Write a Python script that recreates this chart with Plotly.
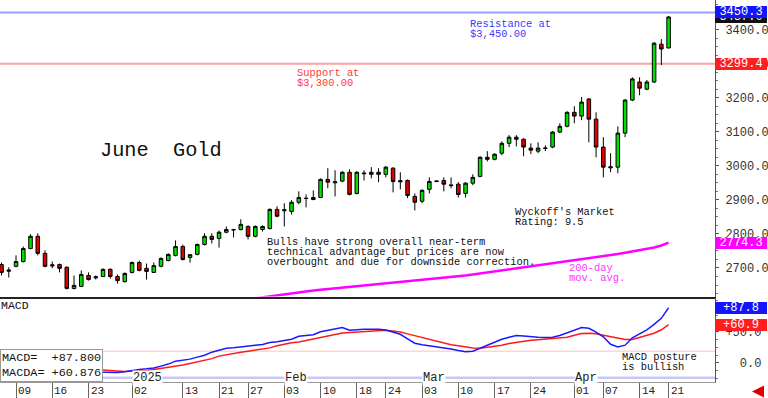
import plotly.graph_objects as go

# ---------------- data ----------------
dec_days = [5, 6, 9, 10, 11, 12, 13, 16, 17, 18, 19, 20, 23, 24, 26, 27, 30, 31]
jan_days = [2, 3, 6, 7, 8, 9, 10, 13, 14, 15, 16, 17, 21, 22, 23, 24, 27, 28, 29, 30, 31]
feb_days = [3, 4, 5, 6, 7, 10, 11, 12, 13, 14, 18, 19, 20, 21, 24, 25, 26, 27, 28]
mar_days = [3, 4, 5, 6, 7, 10, 11, 12, 13, 14, 17, 18, 19, 20, 21, 24, 25, 26, 27, 28, 31]
apr_days = [1, 2, 3, 4, 7, 8, 9, 10, 11, 14, 15, 16, 17, 21]

dates = ([f"2024-12-{d:02d}" for d in dec_days] + [f"2025-01-{d:02d}" for d in jan_days]
         + [f"2025-02-{d:02d}" for d in feb_days] + [f"2025-03-{d:02d}" for d in mar_days]
         + [f"2025-04-{d:02d}" for d in apr_days])

opens = [2710, 2694, 2705, 2719, 2757, 2793, 2743, 2706, 2710, 2702,
         2640, 2646, 2678, 2671, 2675, 2696, 2675, 2660, 2687, 2716,
         2699, 2687, 2705, 2722, 2737, 2763, 2731, 2740, 2769, 2793,
         2787, 2805, 2813, 2813, 2822, 2793, 2813, 2816, 2872, 2868,
         2866, 2893, 2905, 2901, 2907, 2960, 2950, 2955, 2981, 2919,
         2979, 2975, 2981, 2975, 2993, 2953, 2957, 2910, 2896, 2931,
         2954, 2957, 2944, 2946, 2919, 2949, 2969, 3025, 3019, 3037,
         3066, 3084, 3078, 3052, 3043, 3051, 3055, 3099, 3116, 3157,
         3146, 3196, 3137, 3055, 2994, 2996, 3096, 3193, 3246, 3225,
         3246, 3357, 3346]
highs = [2716, 2702, 2737, 2763, 2799, 2802, 2752, 2719, 2713, 2705,
         2678, 2693, 2687, 2678, 2699, 2699, 2681, 2687, 2719, 2722,
         2713, 2716, 2731, 2743, 2781, 2769, 2741, 2772, 2802, 2802,
         2810, 2822, 2815, 2843, 2825, 2825, 2825, 2875, 2881, 2890,
         2899, 2925, 2916, 2928, 2963, 2993, 2987, 2984, 2990, 2984,
         2987, 2996, 2993, 2999, 2996, 2981, 2960, 2919, 2931, 2966,
         2957, 2966, 2966, 2952, 2952, 2975, 3028, 3043, 3037, 3072,
         3090, 3090, 3081, 3066, 3069, 3060, 3102, 3125, 3160, 3175,
         3202, 3199, 3157, 3084, 3037, 3116, 3196, 3260, 3260, 3252,
         3363, 3372, 3440]
lows = [2678, 2672, 2702, 2716, 2755, 2737, 2702, 2699, 2687, 2637,
        2637, 2644, 2663, 2666, 2674, 2669, 2654, 2657, 2684, 2690,
        2666, 2686, 2702, 2719, 2734, 2722, 2716, 2737, 2766, 2772,
        2760, 2802, 2790, 2810, 2784, 2790, 2807, 2813, 2849, 2822,
        2857, 2887, 2878, 2899, 2905, 2934, 2910, 2952, 2913, 2916,
        2957, 2963, 2952, 2966, 2922, 2931, 2905, 2869, 2890, 2919,
        2952, 2925, 2934, 2907, 2907, 2943, 2966, 3013, 3016, 3031,
        3055, 3057, 3028, 3034, 3037, 3043, 3052, 3096, 3113, 3125,
        3134, 3069, 3025, 2966, 2981, 2978, 3084, 3190, 3207, 3222,
        3243, 3296, 3345]
closes = [2687, 2691, 2719, 2757, 2793, 2743, 2705, 2709, 2699, 2640,
          2649, 2681, 2666, 2674, 2696, 2675, 2663, 2684, 2716, 2693,
          2690, 2707, 2728, 2740, 2763, 2725, 2739, 2769, 2793, 2784,
          2805, 2813, 2812, 2828, 2793, 2822, 2822, 2872, 2852, 2871,
          2893, 2907, 2904, 2907, 2960, 2952, 2953, 2981, 2916, 2981,
          2977, 2981, 2975, 2996, 2954, 2956, 2913, 2893, 2928, 2954,
          2955, 2946, 2942, 2916, 2949, 2966, 3025, 3019, 3034, 3066,
          3084, 3078, 3055, 3046, 3052, 3052, 3099, 3116, 3157, 3146,
          3187, 3137, 3055, 2996, 2997, 3096, 3193, 3255, 3228, 3246,
          3360, 3343, 3437]

ma_start = "2025-01-27"
ma200 = [2608, 2611, 2614, 2618, 2621, 2624, 2627, 2630, 2632, 2634,
         2636, 2638, 2640, 2642, 2644, 2646, 2648, 2650, 2653, 2655,
         2658, 2660, 2662, 2664, 2666, 2667, 2669, 2671, 2673, 2675,
         2678, 2681, 2684, 2687, 2690, 2693, 2696, 2699, 2701, 2703,
         2706, 2709, 2712, 2715, 2718, 2721, 2725, 2728, 2731, 2734,
         2737, 2741, 2745, 2749, 2752, 2755, 2760, 2766, 2774.3]

macd = [-5.1, -5.1, -3.5, -1.9, -0.3, -0.3, -3.5, -5.1, -6.6, -9.8,
        -13.0, -13.0, -13.0, -14.6, -14.6, -14.6, -15.3, -14.0, -12.0, -10.5,
        -9.5, -8.2, -5.1, -1.9, 2.8, 4.4, 6.0, 9.2, 12.3, 17.1,
        20.3, 23.4, 24.2, 25.8, 26.6, 28.2, 29.3, 32.4, 33.7, 35.3,
        37.7, 42.4, 44.0, 44.8, 49.5, 51.9, 53.8, 56.2, 51.9, 53.0,
        53.5, 53.5, 53.5, 52.2, 49.5, 45.6, 38.4, 31.3, 29.0, 27.4,
        26.1, 24.5, 22.2, 19.9, 17.9, 18.7, 23.4, 29.0, 33.2, 37.7,
        40.8, 43.5, 42.7, 41.5, 40.8, 40.3, 40.8, 43.5, 48.1, 52.2,
        56.2, 55.1, 49.1, 41.6, 29.7, 25.5, 28.2, 40.0, 46.4, 52.7,
        61.4, 70.9, 87.8]
macda = [-1.9, -1.9, -1.9, -1.9, -1.1, -1.1, -1.9, -2.7, -3.5, -5.1,
         -6.6, -8.2, -9.8, -10.6, -11.4, -12.2, -13.3, -13.8, -13.0, -12.7,
         -11.9, -10.6, -9.0, -7.4, -5.7, -3.5, -1.1, 1.3, 3.6, 6.8,
         10.8, 13.1, 15.0, 17.1, 18.7, 20.6, 22.2, 23.9, 27.4, 30.2,
         32.1, 33.2, 35.6, 37.2, 40.3, 42.7, 45.1, 47.5, 48.4, 49.2,
         50.0, 50.6, 51.3, 51.9, 50.6, 49.1, 46.2, 43.2, 40.3, 37.3,
         34.5, 31.6, 29.0, 27.2, 25.2, 23.7, 23.4, 24.7, 25.9, 28.2,
         30.7, 32.6, 34.8, 36.1, 36.9, 37.8, 38.9, 39.9, 41.0, 44.0,
         46.7, 47.2, 46.4, 44.1, 41.5, 38.6, 37.2, 37.2, 40.5, 43.2,
         47.2, 52.7, 60.876]

resistance = 3450.3
support = 3299.4
macd_ref = 18.7

tick_dates = ["2024-12-09", "2024-12-16", "2024-12-23", "2025-01-02", "2025-01-13",
              "2025-01-21", "2025-01-27", "2025-02-03", "2025-02-10", "2025-02-18",
              "2025-02-24", "2025-03-03", "2025-03-10", "2025-03-17", "2025-03-24",
              "2025-04-01", "2025-04-07", "2025-04-14", "2025-04-21"]
month_labels = [("2025", "2025-01-02"), ("Feb", "2025-02-03"),
                ("Mar", "2025-03-03"), ("Apr", "2025-04-01")]

# ---------------- helpers ----------------
idx = list(range(len(dates)))
pos = {d: i for i, d in enumerate(dates)}
ma_x = list(range(pos[ma_start], pos[ma_start] + len(ma200)))

W, H = 768, 398
PW, PH = 715, 382          # plot-area size in px


def px(x):
    return x / PW


def py(y):
    return (PH - y) / PH


MONO = "Liberation Mono, DejaVu Sans Mono, monospace"
MAIN_DOM = [py(296.5), 1.0]
MACD_DOM = [0.0, py(297.5)]

fig = go.Figure()

fig.add_trace(go.Scatter(x=ma_x, y=ma200, mode="lines",
                         line=dict(color="#ff00ff", width=2.5),
                         xaxis="x", yaxis="y", hoverinfo="skip"))

fig.add_trace(go.Candlestick(
    x=idx, open=opens, high=highs, low=lows, close=closes,
    increasing=dict(fillcolor="#00e000", line=dict(color="#000000", width=1)),
    decreasing=dict(fillcolor="#e00000", line=dict(color="#000000", width=1)),
    whiskerwidth=0, xaxis="x", yaxis="y"))

fig.add_trace(go.Scatter(x=idx, y=macda, mode="lines",
                         line=dict(color="#ff1a1a", width=1.5),
                         xaxis="x2", yaxis="y2"))
fig.add_trace(go.Scatter(x=idx, y=macd, mode="lines",
                         line=dict(color="#1a1aff", width=1.5),
                         xaxis="x2", yaxis="y2"))

xr = [-0.21, 98.4]
main_ticks = [2700, 2800, 2900, 3000, 3100, 3200, 3300, 3400]

fig.update_layout(
    width=W, height=H, showlegend=False,
    margin=dict(l=0, r=W - PW, t=0, b=H - PH),
    paper_bgcolor="white", plot_bgcolor="white",
    font=dict(family=MONO, size=12, color="#222"),
    xaxis=dict(domain=[0, 1], range=xr, anchor="y", matches="x2",
               showgrid=False, zeroline=False, showticklabels=False, ticks="",
               showline=True, linecolor="#222", linewidth=2,
               rangeslider=dict(visible=False), fixedrange=True),
    yaxis=dict(domain=MAIN_DOM, range=[2616.3, 3486.8], side="right", anchor="x",
               showgrid=False, zeroline=False, showline=True, linecolor="#555",
               ticks="outside", ticklen=3, tickcolor="#555",
               tickvals=main_ticks, ticktext=[f"{v:.1f}" for v in main_ticks],
               tickfont=dict(family=MONO, size=12, color="#333"),
               ticklabelstandoff=4,
               minor=dict(dtick=25, ticks="outside", ticklen=2, tickcolor="#777")),
    xaxis2=dict(domain=[0, 1], range=xr, anchor="y2",
                showgrid=False, zeroline=False, showticklabels=False,
                ticks="outside", ticklen=16, tickcolor="#666", tickwidth=1,
                tickvals=[pos[d] for d in tick_dates],
                showline=True, linecolor="#999", linewidth=1),
    yaxis2=dict(domain=MACD_DOM, range=[-30.4, 104.1], side="right", anchor="x2",
                showgrid=False, zeroline=False, showline=True, linecolor="#555",
                ticks="outside", ticklen=3, tickcolor="#555",
                tickvals=[0, 50], ticktext=["\u00a0\u00a00.0", "+50.0"],
                tickfont=dict(family=MONO, size=12, color="#333"),
                ticklabelstandoff=4,
                minor=dict(dtick=12.5, ticks="outside", ticklen=2, tickcolor="#777")),
)

shapes = [
    dict(type="line", xref="paper", yref="y", x0=0, x1=1, y0=resistance, y1=resistance,
         line=dict(color="#9c9cff", width=2), layer="below"),
    dict(type="line", xref="paper", yref="y", x0=0, x1=1, y0=support, y1=support,
         line=dict(color="#ffa0a0", width=2), layer="below"),
    dict(type="line", xref="paper", yref="y2", x0=0, x1=1, y0=macd_ref, y1=macd_ref,
         line=dict(color="#ffc0c0", width=1), layer="below"),
    dict(type="line", xref="paper", yref="paper", x0=0, x1=1, y0=py(377.7), y1=py(377.7),
         line=dict(color="#c8c8f4", width=2.5), layer="below"),
]
fig.update_layout(shapes=shapes)

anns = []


def text(t, x, y, color="#111", size=10.4, xanchor="left", bg=None, **kw):
    d = dict(text=t, xref="paper", yref="paper", x=px(x), y=py(y),
             xanchor=xanchor, yanchor="middle", showarrow=False,
             font=dict(family=MONO, size=size, color=color), borderpad=0)
    if bg:
        d["bgcolor"] = bg
    d.update(kw)
    anns.append(d)


text("Resistance at", 469, 24, "#3a3aff")
text("$3,450.00", 469, 34, "#3a3aff")
text("Support at", 296, 73, "#ff3a3a")
text("$3,300.00", 296, 83, "#ff3a3a")
text("June\u00a0\u00a0Gold", 99, 150, "#111", size=20.3)
text("Wyckoff's Market", 514, 212)
text("Rating: 9.5", 514, 222)
text("Bulls have strong overall near-term", 266, 242)
text("technical advantage but prices are now", 266, 252)
text("overbought and due for downside correction.", 266, 262)
text("200-day", 568, 268, "#ff33ff")
text("mov. avg.", 568, 278, "#ff33ff")
text("MACD", 0, 305, "#111", size=11.5)
text("MACD posture", 621, 357)
text("is bullish", 621, 367)

# MACD value box
anns.append(dict(text=f"MACD=\u00a0\u00a0{macd[-1]:+.3f}<br>MACDA=\u00a0{macda[-1]:+.3f}",
                 xref="paper", yref="paper", x=0, y=0, xanchor="left", yanchor="bottom",
                 showarrow=False, align="left", bgcolor="white", bordercolor="#999",
                 borderwidth=1, borderpad=1,
                 font=dict(family=MONO, size=11.8, color="#111")))

# month labels
for lab, d in month_labels:
    anns.append(dict(text=lab, xref="x2", yref="paper", x=pos[d], y=py(377.5),
                     xanchor="left", yanchor="middle", xshift=0, showarrow=False,
                     bgcolor="white", borderpad=0,
                     font=dict(family=MONO, size=12, color="#222")))

# x tick labels (to the right of each tick line)
for d in tick_dates:
    anns.append(dict(text=d[-2:], xref="x2", yref="paper", x=pos[d], y=py(390.5),
                     xanchor="left", yanchor="middle", xshift=1, showarrow=False,
                     borderpad=0, font=dict(family=MONO, size=11, color="#222")))


def box(yref, value, label, bg):
    anns.append(dict(text=label, xref="paper", yref=yref, x=1, y=value,
                     xanchor="left", yanchor="middle", showarrow=False,
                     width=52, height=12, bgcolor=bg, borderpad=0, borderwidth=0,
                     align="center", font=dict(family=MONO, size=12, color="white")))


box("y", closes[-1], f"{closes[-1]:.1f}", "#111111")
box("y", resistance, f"{resistance:.1f}", "#1414ff")
box("y", support, f"{support:.1f}", "#ff1e1e")
box("y", ma200[-1], f"{ma200[-1]:.1f}", "#ff00ff")
box("y2", macd[-1], f"{macd[-1]:+.1f}", "#1414ff")
box("y2", macda[-1], f"{macda[-1]:+.1f}", "#ff1e1e")

# small red arrow bottom-right
anns.append(dict(text="", xref="paper", yref="paper", x=px(752), y=py(391.5),
                 showarrow=True, arrowhead=2, arrowsize=0.8, arrowwidth=3,
                 arrowcolor="#e00000", ax=12, ay=0))

fig.update_layout(annotations=anns)

fig.write_html("out.html", config={"displayModeBar": False, "staticPlot": True},
               post_script="document.body.style.margin='0px';document.body.style.overflow='hidden';")
